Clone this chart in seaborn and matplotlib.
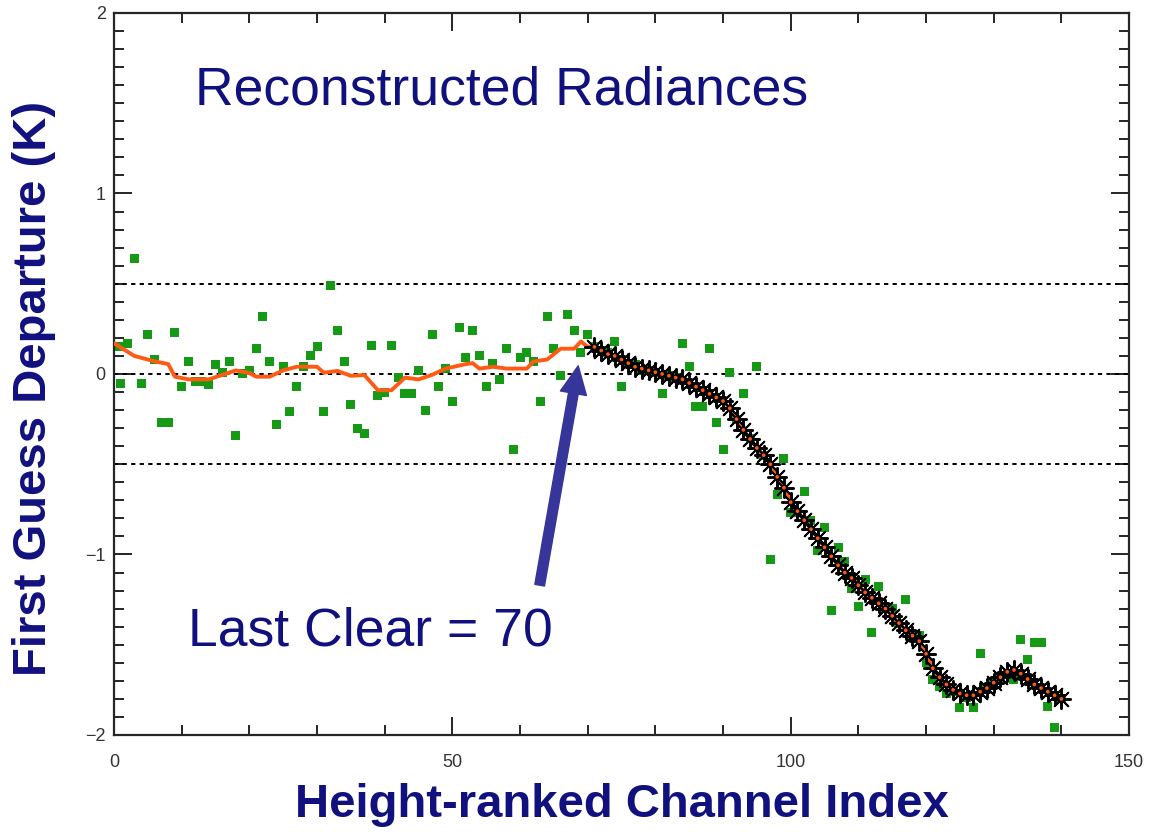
import numpy as np
import pandas as pd
import matplotlib
matplotlib.use("Agg")
import matplotlib.pyplot as plt
from matplotlib.ticker import MultipleLocator
import seaborn as sns

# first-guess departures of every channel (green squares)
green_ch = [0.6] + list(range(1, 141))
green_dep = [
    0.15,
    -0.05, 0.17, 0.64, -0.05, 0.22, 0.08, -0.27, -0.27, 0.23, -0.07,    # 1-10
    0.07, -0.04, -0.04, -0.06, 0.05, 0.01, 0.07, -0.34, 0.00, 0.02,     # 11-20
    0.14, 0.32, 0.07, -0.28, 0.04, -0.21, -0.07, 0.04, 0.10, 0.15,      # 21-30
    -0.21, 0.49, 0.24, 0.07, -0.17, -0.30, -0.33, 0.16, -0.12, -0.10,   # 31-40
    0.16, -0.02, -0.11, -0.11, 0.02, -0.20, 0.22, -0.07, 0.03, -0.15,   # 41-50
    0.26, 0.09, 0.24, 0.10, -0.07, 0.06, -0.03, 0.14, -0.42, 0.09,      # 51-60
    0.12, 0.07, -0.15, 0.32, 0.14, -0.01, 0.33, 0.24, 0.12, 0.22,       # 61-70
    0.15, 0.13, 0.12, 0.18, -0.07, 0.06, 0.05, 0.02, 0.02, 0.01,        # 71-80
    -0.11, -0.01, -0.02, 0.17, 0.04, -0.18, -0.18, 0.14, -0.27, -0.42,  # 81-90
    0.01, -0.25, -0.11, -0.36, 0.04, -0.45, -1.03, -0.67, -0.47, -0.77, # 91-100
    -0.77, -0.65, -0.81, -0.98, -0.85, -1.31, -0.96, -1.04, -1.19, -1.29,   # 101-110
    -1.14, -1.43, -1.18, -1.30, -1.30, -1.38, -1.25, -1.45, -1.45, -1.60,   # 111-120
    -1.69, -1.73, -1.77, -1.76, -1.85, -1.79, -1.85, -1.55, -1.74, -1.71,   # 121-130
    -1.68, -1.66, -1.69, -1.47, -1.58, -1.49, -1.49, -1.84, -1.96, -1.80,   # 131-140
]

# reconstructed-radiance departures, cloudy part (black asterisks), channels 71-140
recon_ch = list(range(71, 141))
recon_dep = [
    0.15, 0.13, 0.11, 0.10, 0.08, 0.06, 0.04, 0.03, 0.02, 0.01,
    0.00, -0.01, -0.02, -0.03, -0.05, -0.07, -0.09, -0.11, -0.13, -0.15,
    -0.19, -0.25, -0.31, -0.36, -0.41, -0.45, -0.50, -0.57, -0.63, -0.71,
    -0.76, -0.81, -0.86, -0.91, -0.96, -1.01, -1.06, -1.10, -1.13, -1.17,
    -1.21, -1.24, -1.27, -1.30, -1.34, -1.38, -1.42, -1.45, -1.48, -1.55,
    -1.63, -1.68, -1.72, -1.75, -1.77, -1.78, -1.78, -1.76, -1.74, -1.71,
    -1.68, -1.65, -1.64, -1.66, -1.69, -1.72, -1.74, -1.76, -1.78, -1.80,
]

# smoothed clear part (orange line), channels 0-70
clear_ch = [0, 3, 6, 8, 9, 11, 14, 16, 18, 20, 21, 23, 25, 27, 30, 31, 33, 35,
            37, 39, 41, 43, 45, 47, 49, 52, 53, 54, 56, 58, 61, 62, 64, 66, 68, 69, 70]
clear_dep = [0.17, 0.10, 0.07, 0.055, -0.015, -0.03, -0.03, -0.005, 0.02, 0.005,
             -0.015, -0.015, 0.02, 0.04, 0.04, 0.007, 0.017, -0.01, -0.006, -0.09,
             -0.09, -0.02, -0.03, -0.005, 0.03, 0.055, 0.06, 0.03, 0.04, 0.03,
             0.03, 0.07, 0.08, 0.14, 0.14, 0.18, 0.15]

ref_levels = [0.5, 0.0, -0.5]
last_clear = 70

line_ch = clear_ch + recon_ch
line_dep = clear_dep + recon_dep

navy = "#10107f"
orange = "#ff5a14"

sns.set_style("ticks")
plt.rcParams["font.family"] = ["Liberation Sans", "DejaVu Sans"]

fig = plt.figure(figsize=(11.53, 8.32), dpi=100)
ax = fig.add_axes([0.0989, 0.1166, 0.8803, 0.8678])

for lev in ref_levels:
    ax.axhline(lev, color="black", lw=1.4, ls=(0, (2.2, 2.2)), zorder=1)

sns.scatterplot(x=green_ch, y=green_dep, marker="s", s=42, color="#169a16",
                edgecolor="none", ax=ax, zorder=2)
sns.lineplot(x=line_ch, y=line_dep, color=orange, lw=2.8, ax=ax, zorder=3,
             estimator=None, sort=False)
sns.scatterplot(x=recon_ch, y=recon_dep, marker=(8, 2, 0), s=190, color="black",
                linewidth=1.4, ax=ax, zorder=4)
sns.scatterplot(x=recon_ch, y=recon_dep, marker="o", s=7, color=orange,
                edgecolor="none", ax=ax, zorder=5)

# arrow pointing at the last clear channel
ax.annotate("", xy=(68.6, 0.045), xytext=(62.9, -1.17),
            arrowprops=dict(arrowstyle="simple,head_length=20,head_width=19,tail_width=7",
                            mutation_scale=1, color="#35359a", shrinkA=0, shrinkB=0),
            zorder=6)

ax.text(12.0, 1.57, "Reconstructed Radiances", fontsize=38.5, color=navy,
        ha="left", va="center")
ax.text(10.9, -1.425, f"Last Clear = {last_clear}", fontsize=38.5, color=navy,
        ha="left", va="center")

ax.set_xlim(0, 150)
ax.set_ylim(-2, 2)
ax.xaxis.set_major_locator(MultipleLocator(50))
ax.xaxis.set_minor_locator(MultipleLocator(10))
ax.yaxis.set_major_locator(MultipleLocator(1))
ax.yaxis.set_minor_locator(MultipleLocator(0.1))
ax.tick_params(which="both", direction="in", top=True, right=True, width=1.2,
               colors="black", labelcolor="#333333")
ax.tick_params(which="major", length=13, labelsize=13)
ax.tick_params(which="minor", length=7)
ax.tick_params(axis="x", which="major", pad=14)
ax.tick_params(axis="y", which="major", pad=6)
for sp in ax.spines.values():
    sp.set_linewidth(1.6)
    sp.set_visible(True)

ax.set_xlabel("Height-ranked Channel Index", fontsize=34, fontweight="bold",
              color=navy, labelpad=8)
ax.set_ylabel("First Guess Departure (K)", fontsize=34, fontweight="bold",
              color=navy)
ax.yaxis.set_label_coords(-0.057, 0.48)

plt.savefig("out.png", dpi=100)
